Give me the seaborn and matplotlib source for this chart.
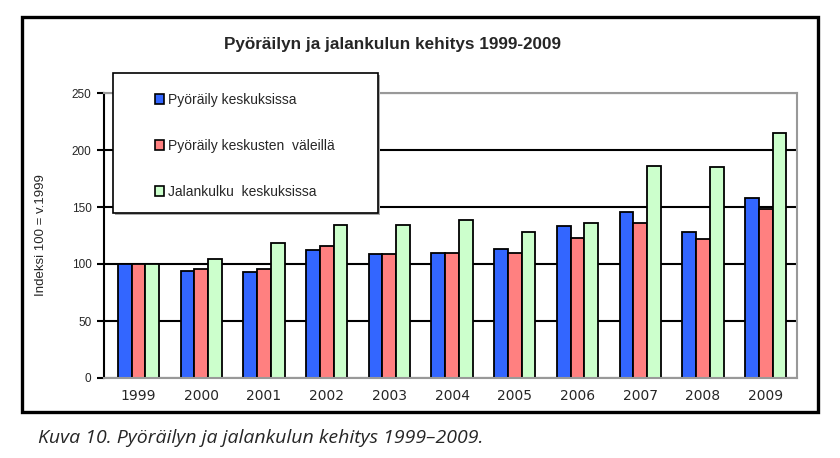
import matplotlib
matplotlib.use("Agg")
import matplotlib.pyplot as plt
import seaborn as sns
import pandas as pd
from matplotlib.patches import Rectangle

years = ["1999", "2000", "2001", "2002", "2003", "2004", "2005", "2006", "2007", "2008", "2009"]
series_names = ["Pyöräily keskuksissa", "Pyöräily keskusten  väleillä", "Jalankulku  keskuksissa"]
pyoraily_keskuksissa = [100, 94, 93, 112, 109, 110, 113, 133, 146, 128, 158]
pyoraily_valeilla = [100, 96, 96, 116, 109, 110, 110, 123, 136, 122, 148]
jalankulku = [100, 104, 118, 134, 134, 139, 128, 136, 186, 185, 215]
colors = ["#3366FF", "#FF8080", "#CCFFCC"]
y_ticks = [0, 50, 100, 150, 200, 250]

rows = []
for name, vals in zip(series_names, [pyoraily_keskuksissa, pyoraily_valeilla, jalankulku]):
    for y, v in zip(years, vals):
        rows.append({"Vuosi": y, "Sarja": name, "Arvo": v})
df = pd.DataFrame(rows)

sns.set_style("white")
plt.rcParams["font.family"] = ["Liberation Sans", "DejaVu Sans"]

W, H = 840, 458
fig = plt.figure(figsize=(8.4, 4.58), dpi=100)
ax = fig.add_axes([104 / W, 1 - 378 / H, (797 - 104) / W, (378 - 93) / H])

sns.barplot(data=df, x="Vuosi", y="Arvo", hue="Sarja", hue_order=series_names,
            order=years, palette=colors, width=0.66, edgecolor="black",
            linewidth=1.3, saturation=1, ax=ax, legend=True, errorbar=None)

ax.set_ylim(0, 250)
ax.set_yticks(y_ticks)
ax.set_yticklabels([str(t) for t in y_ticks], fontsize=8.5)
ax.set_xlim(-0.55, len(years) - 0.5)
ax.set_xlabel("")
ax.set_ylabel("Indeksi 100 = v.1999", fontsize=9.5, labelpad=18)
for lbl in ax.get_xticklabels():
    lbl.set_fontfamily("DejaVu Sans")
    lbl.set_fontsize(10)
ax.tick_params(axis="x", length=0, pad=8)
ax.tick_params(axis="y", length=5, width=1.5, color="black", left=True, direction="out", pad=4)
ax.set_axisbelow(True)
ax.yaxis.grid(True, color="black", linewidth=1.5)
for s in ["top", "right", "bottom"]:
    ax.spines[s].set_color("#999999")
    ax.spines[s].set_linewidth(1.5)
ax.spines["left"].set_color("black")
ax.spines["left"].set_linewidth(1.5)

handles, labels = ax.get_legend_handles_labels()
ax.get_legend().remove()

fig.text(392 / W, 1 - 45 / H, "Pyöräilyn ja jalankulun kehitys 1999-2009", ha="center",
         va="center", fontsize=12.3, fontweight="bold")

# legend frame with a light shadow
fig.patches.append(Rectangle(((113 + 2) / W, 1 - (213 + 2) / H), 265 / W, 140 / H,
                             transform=fig.transFigure, facecolor="#AAAAAA",
                             edgecolor="none", zorder=9))
fig.patches.append(Rectangle((113 / W, 1 - 213 / H), 265 / W, 140 / H,
                             transform=fig.transFigure, facecolor="white",
                             edgecolor="black", linewidth=1.2, zorder=10))

leg = fig.legend(handles, labels, loc="upper left", bbox_to_anchor=(148 / W, 1 - 86 / H),
                 fontsize=10, labelspacing=2.3, handlelength=0.65, handleheight=0.65,
                 handletextpad=0.3, borderpad=0, frameon=False)
leg.set_zorder(11)
for h in leg.legend_handles:
    h.set_edgecolor("black")
    h.set_linewidth(1.2)

fig.patches.append(Rectangle((22 / W, 1 - 412 / H), 796 / W, 395 / H, transform=fig.transFigure,
                             fill=False, edgecolor="black", linewidth=2.4, zorder=20))

fig.text(38 / W, 1 - 438 / H, "Kuva 10. Pyöräilyn ja jalankulun kehitys 1999–2009.", ha="left",
         va="center", fontsize=14, fontstyle="italic", family=["Open Sans", "DejaVu Sans"])

fig.savefig("out.png", dpi=100)
